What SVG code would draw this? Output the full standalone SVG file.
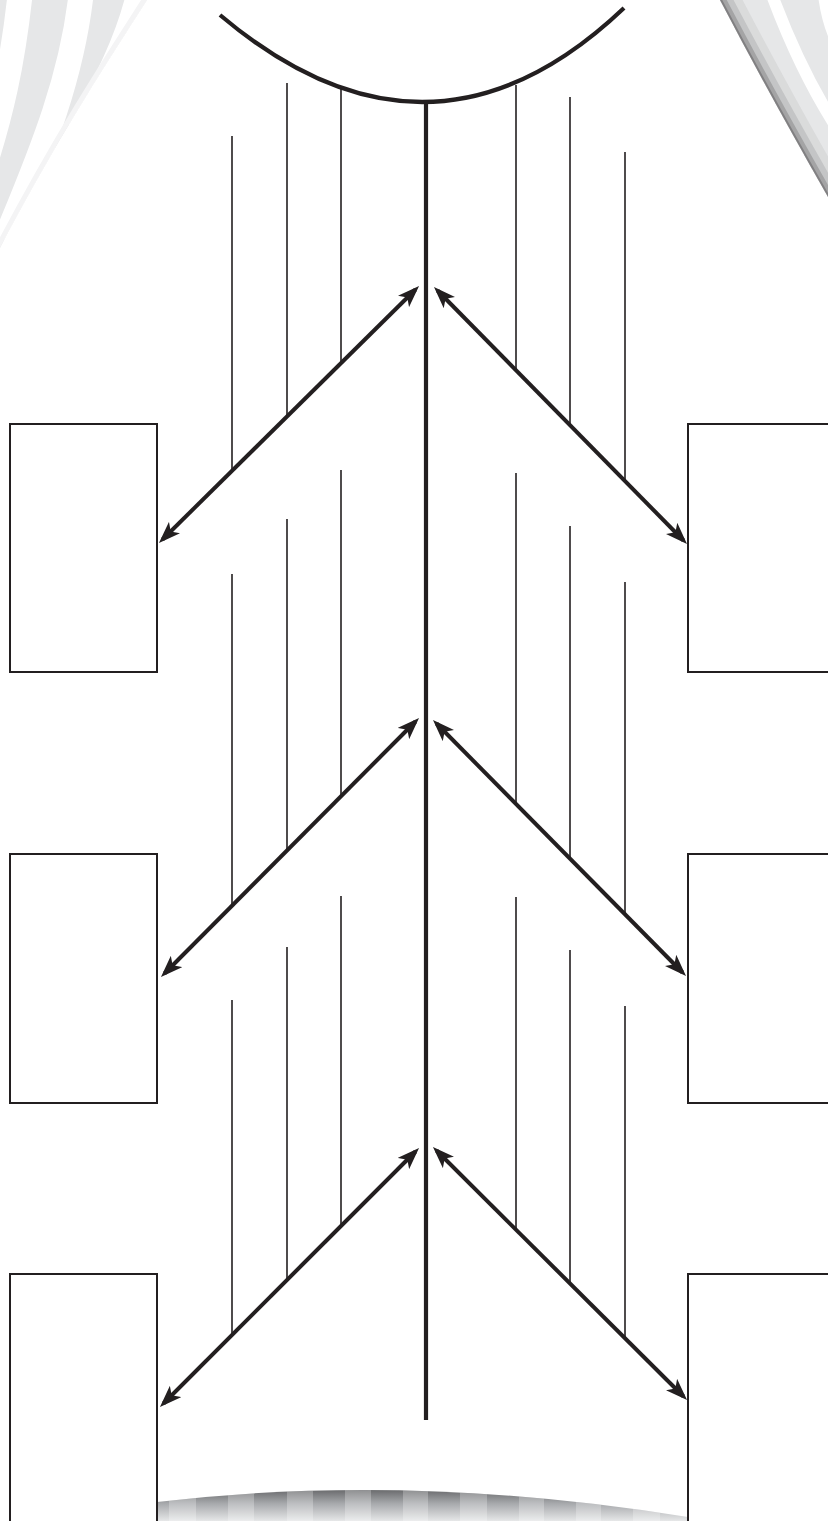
<svg xmlns="http://www.w3.org/2000/svg" width="828" height="1521" viewBox="0 0 828 1521">
  <style>
    .rib { stroke: #231f20; stroke-width: 1.6; fill: none; }
    .spine { stroke: #231f20; stroke-width: 4.2; fill: none; }
    .box { stroke: #231f20; stroke-width: 2; fill: #ffffff; }
    .arrow { stroke: #231f20; stroke-width: 4; fill: none; marker-start: url(#head); marker-end: url(#head); }
  </style>
  <defs>
    <marker id="head" viewBox="0 0 22 16" markerWidth="22" markerHeight="16" refX="17" refY="8" orient="auto-start-reverse" markerUnits="userSpaceOnUse">
      <path d="M0,0 L22,8 L0,16 L5.5,8 Z" fill="#231f20"/>
    </marker>
    <clipPath id="tlClip"><path d="M0,0 L147,0 C112,55 62,130 0,248 Z"/></clipPath>
    <clipPath id="trClip"><path d="M720,0 Q768,92 828,197 L828,0 Z"/></clipPath>
    <clipPath id="botClip"><path d="M157,1502 Q410,1472 688,1517 L688,1521 L157,1521 Z"/></clipPath>
    <linearGradient id="botGrad" x1="0" y1="1486" x2="0" y2="1521" gradientUnits="userSpaceOnUse">
      <stop offset="0" stop-color="#58595b"/>
      <stop offset="0.5" stop-color="#a7a9ac"/>
      <stop offset="1" stop-color="#e6e7e8"/>
    </linearGradient>
  </defs>

  <rect x="0" y="0" width="828" height="1521" fill="#ffffff"/>

  <g id="background">
    <g clip-path="url(#tlClip)">
      <rect x="0" y="0" width="160" height="260" fill="#e6e7e8"/>
      <path d="M20,-5 C13,60 2,115 -22,185" stroke="#ffffff" stroke-width="25" fill="none"/>
      <path d="M81,-5 C72,75 45,145 5,240" stroke="#ffffff" stroke-width="25" fill="none"/>
      <path d="M137,-5 C126,40 106,80 78,130" stroke="#ffffff" stroke-width="22" fill="none"/>
      <path d="M147,0 C112,55 62,130 0,248" stroke="#f4f4f5" stroke-width="10" fill="none"/>
    </g>
    <g clip-path="url(#trClip)">
      <rect x="715" y="0" width="120" height="200" fill="#e6e7e8"/>
      <path d="M772,-5 Q800,70 835,125" stroke="#ffffff" stroke-width="12" fill="none"/>
      <path d="M823,-5 Q826,20 835,40" stroke="#ffffff" stroke-width="10" fill="none"/>
      <path d="M720,0 Q768,92 828,197" stroke="#808285" stroke-width="40" stroke-opacity="0.12" fill="none"/>
      <path d="M720,0 Q768,92 828,197" stroke="#6d6e71" stroke-width="24" stroke-opacity="0.2" fill="none"/>
      <path d="M720,0 Q768,92 828,197" stroke="#58595b" stroke-width="12" stroke-opacity="0.3" fill="none"/>
      <path d="M720,0 Q768,92 828,197" stroke="#414042" stroke-width="4" stroke-opacity="0.35" fill="none"/>
    </g>
    <g clip-path="url(#botClip)">
      <rect x="157" y="1480" width="531" height="41" fill="url(#botGrad)"/>
      <g fill="#ffffff" fill-opacity="0.25">
        <rect x="169" y="1480" width="27" height="41"/>
        <rect x="228" y="1480" width="26" height="41"/>
        <rect x="287" y="1480" width="26" height="41"/>
        <rect x="345" y="1480" width="26" height="41"/>
        <rect x="403" y="1480" width="25" height="41"/>
        <rect x="460" y="1480" width="27" height="41"/>
        <rect x="519" y="1480" width="25" height="41"/>
        <rect x="576" y="1480" width="25" height="41"/>
        <rect x="633" y="1480" width="27" height="41"/>
      </g>
    </g>
  </g>

  <g id="head-curve">
    <path class="spine" d="M220,15 Q430,192.5 624,8"/>
  </g>

  <g id="ribs">
    <line class="rib" x1="232" y1="136" x2="232" y2="470"/>
    <line class="rib" x1="287" y1="83" x2="287" y2="416"/>
    <line class="rib" x1="341" y1="88" x2="341" y2="363"/>
    <line class="rib" x1="516" y1="85" x2="516" y2="370"/>
    <line class="rib" x1="570" y1="97" x2="570" y2="425"/>
    <line class="rib" x1="625" y1="152" x2="625" y2="481"/>

    <line class="rib" x1="232" y1="574" x2="232" y2="905"/>
    <line class="rib" x1="287" y1="519" x2="287" y2="850"/>
    <line class="rib" x1="341" y1="470" x2="341" y2="796"/>
    <line class="rib" x1="516" y1="473" x2="516" y2="805"/>
    <line class="rib" x1="570" y1="526" x2="570" y2="859"/>
    <line class="rib" x1="625" y1="582" x2="625" y2="914"/>

    <line class="rib" x1="232" y1="1000" x2="232" y2="1335"/>
    <line class="rib" x1="287" y1="947" x2="287" y2="1280"/>
    <line class="rib" x1="341" y1="896" x2="341" y2="1226"/>
    <line class="rib" x1="516" y1="897" x2="516" y2="1230"/>
    <line class="rib" x1="570" y1="950" x2="570" y2="1283"/>
    <line class="rib" x1="625" y1="1006" x2="625" y2="1338"/>
  </g>

  <g id="spine">
    <line class="spine" x1="426" y1="100" x2="426" y2="1420"/>
  </g>

  <g id="box-left-1"><rect class="box" x="10" y="424" width="147" height="248"/></g>
  <g id="box-left-2"><rect class="box" x="10" y="854" width="147" height="249"/></g>
  <g id="box-left-3"><rect class="box" x="10" y="1274" width="147" height="260" fill="none"/></g>
  <g id="box-right-1"><rect class="box" x="688" y="424" width="160" height="248"/></g>
  <g id="box-right-2"><rect class="box" x="688" y="854" width="160" height="249"/></g>
  <g id="box-right-3"><path class="box" d="M848,1274 L688,1274 L688,1530" fill="none"/></g>

  <g id="connectors">
    <line class="arrow" x1="415.5" y1="289.5" x2="162.5" y2="539.5"/>
    <line class="arrow" x1="437.5" y1="290.5" x2="683.5" y2="540.5"/>
    <line class="arrow" x1="415.5" y1="721.5" x2="164.5" y2="973.5"/>
    <line class="arrow" x1="436.5" y1="723.5" x2="682.5" y2="972.5"/>
    <line class="arrow" x1="415.5" y1="1151.5" x2="163.5" y2="1403.5"/>
    <line class="arrow" x1="436.5" y1="1150.5" x2="683.5" y2="1396.5"/>
  </g>
</svg>
